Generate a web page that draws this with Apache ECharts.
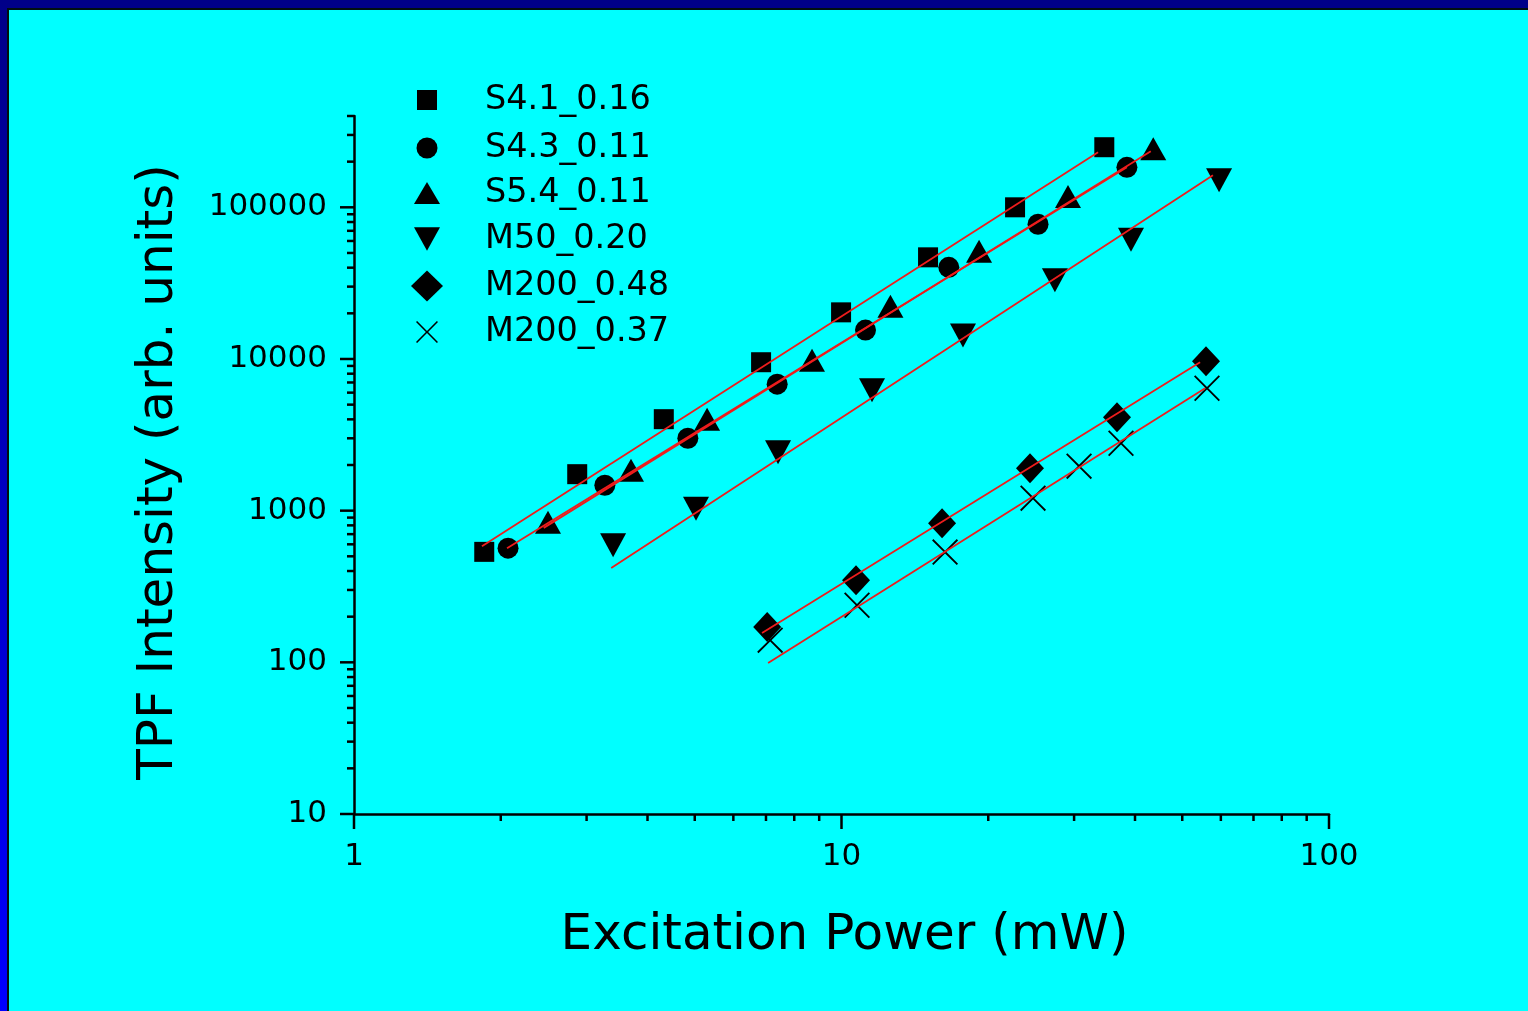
<!DOCTYPE html>
<html>
<head>
<meta charset="utf-8">
<script src="https://cdn.jsdelivr.net/npm/echarts@6/dist/echarts.min.js"></script>
<style>
html,body{margin:0;padding:0;background:#00ffff;}
#chart{width:1528px;height:1011px;}
</style>
</head>
<body>
<div id="chart"></div>
<script>
// ---- data (x: mW, y: arb. units) ----
const seriesNames = ['S4.1_0.16','S4.3_0.11','S5.4_0.11','M50_0.20','M200_0.48','M200_0.37'];

const xS41 = [1.85, 2.87, 4.32, 6.84, 9.98, 15.05, 22.7, 34.6];
const yS41 = [535, 1740, 4010, 9520, 20300, 46800, 100000, 249000];
const xS43 = [2.07, 3.27, 4.84, 7.38, 11.2, 16.6, 25.3, 38.5];
const yS43 = [566, 1470, 3000, 6820, 15500, 40200, 77300, 183500];
const xS54 = [2.50, 3.70, 5.30, 8.70, 12.6, 19.15, 29.15, 43.6];
const yS54 = [840, 1850, 4010, 9810, 22300, 51300, 118000, 243000];
const xM50 = [3.40, 5.03, 7.41, 11.55, 17.75, 27.4, 39.25, 59.5];
const yM50 = [592, 1030, 2430, 6220, 14300, 33000, 61100, 150600];
const xM48 = [7.04, 10.71, 16.08, 24.36, 36.74, 55.94];
const yM48 = [171, 348, 827, 1905, 4130, 9670];
const xM37 = [7.14, 10.76, 16.31, 24.71, 30.71, 37.44, 56.2];
const yM37 = [140, 238, 533, 1209, 1965, 2785, 6415];

// fitted lines (end points)
const fitXS41 = [1.83, 33.6];   const fitYS41 = [583, 230500];
const fitXS43 = [2.06, 38.5];   const fitYS43 = [566, 183500];
const fitXS54 = [2.45, 43.1];   const fitYS54 = [770, 234000];
const fitXM50 = [3.37, 57.8];   const fitYM50 = [418, 162500];
const fitXM48 = [6.87, 54.4];   const fitYM48 = [156, 9520];
const fitXM37 = [7.07, 55.7];   const fitYM37 = [99, 6413];

// axis ticks
const xMajorTicks = [1, 10, 100];
const yMajorTicks = [10, 100, 1000, 10000, 100000];
const minorMultipliers = [2, 3, 4, 5, 6, 7, 8, 9];
const xDecades = [1, 10];
const yDecades = [10, 100, 1000, 10000];
const yTopMinor = [200000, 300000, 400000];

// ---- build ----
const zip = (xs, ys) => xs.map((x, i) => [x, ys[i]]);
const points = [zip(xS41,yS41), zip(xS43,yS43), zip(xS54,yS54), zip(xM50,yM50), zip(xM48,yM48), zip(xM37,yM37)];
const fits = [zip(fitXS41,fitYS41), zip(fitXS43,fitYS43), zip(fitXS54,fitYS54), zip(fitXM50,fitYM50), zip(fitXM48,fitYM48), zip(fitXM37,fitYM37)];

const crossPath = 'path://M0,0.5L0.5,0L5,4.5L9.5,0L10,0.5L5.5,5L10,9.5L9.5,10L5,5.5L0.5,10L0,9.5L4.5,5Z';
const downTri = 'path://M0,0L10,0L5,9Z';
const symbols = ['rect', 'circle', 'triangle', downTri, 'diamond', crossPath];
const sizes = [[20,20],[21,21],[26,23],[26,24],[28,30],[26,26]];
const legendSizes = [[20,20],[21,21],[26,22],[26,24],[32,31],[22,22]];
const legendRows = [98, 146, 191, 237, 284, 330];

const FONT = 'DejaVu Sans';
const RED = '#ee1c1c';

const minorX = [];
xDecades.forEach(d => minorMultipliers.forEach(m => minorX.push(d * m)));
const minorY = [];
yDecades.forEach(d => minorMultipliers.forEach(m => minorY.push(d * m)));
yTopMinor.forEach(v => minorY.push(v));

const xTickData = xMajorTicks.map(v => [v, 10, 1]).concat(minorX.map(v => [v, 10, 0]));
const yTickData = yMajorTicks.map(v => [1, v, 1]).concat(minorY.map(v => [1, v, 0]));

const series = [];
seriesNames.forEach((name, i) => {
  series.push({
    name: name, type: 'scatter', data: points[i],
    symbol: symbols[i], symbolSize: sizes[i],
    itemStyle: {color: '#000', opacity: 1}, z: 2, silent: true
  });
});
seriesNames.forEach((name, i) => {
  series.push({
    name: name + ' fit', type: 'line', data: fits[i], symbol: 'none',
    lineStyle: {color: RED, width: 1.8}, z: 3, silent: true
  });
});
series.push({
  type: 'custom', name: 'xticks', data: xTickData, clip: false, silent: true, z: 4,
  renderItem: (params, api) => {
    const p = api.coord([api.value(0), api.value(1)]);
    const len = api.value(2) ? 15 : 7;
    return {type: 'line', shape: {x1: p[0], y1: p[1], x2: p[0], y2: p[1] + len},
            style: {stroke: '#000', lineWidth: 2.5}};
  }
});
series.push({
  type: 'custom', name: 'yticks', data: yTickData, clip: false, silent: true, z: 4,
  renderItem: (params, api) => {
    const p = api.coord([api.value(0), api.value(1)]);
    const len = api.value(2) ? 14 : 7;
    return {type: 'line', shape: {x1: p[0] - len, y1: p[1], x2: p[0], y2: p[1]},
            style: {stroke: '#000', lineWidth: 2.5}};
  }
});

const legends = seriesNames.map((name, i) => {
  const w = legendSizes[i][0], h = legendSizes[i][1];
  return {
    data: [name], orient: 'vertical', left: 427 - w / 2, top: legendRows[i] - 16,
    itemWidth: w, itemHeight: h, padding: 0, selectedMode: false,
    textStyle: {fontFamily: FONT, fontSize: 33.5, color: '#000', lineHeight: 36,
                padding: [0, 0, 0, 53 - w / 2]},
    itemStyle: {color: '#000', opacity: 1}
  };
});

const isPow10 = v => { const l = Math.log10(v); return Math.abs(l - Math.round(l)) < 1e-6; };

const option = {
  backgroundColor: '#00ffff',
  animation: false,
  grid: {left: 354, right: 199, top: 116, bottom: 197, containLabel: false},
  legend: legends,
  xAxis: {
    type: 'log', logBase: 10, min: 1, max: 100,
    name: 'Excitation Power (mW)', nameLocation: 'middle', nameGap: 97,
    nameTextStyle: {fontFamily: FONT, fontSize: 50, color: '#000', padding: [0, 0, 0, 6]},
    axisLine: {lineStyle: {color: '#000', width: 2.5}},
    axisTick: {show: false}, splitLine: {show: false}, minorTick: {show: false},
    axisLabel: {fontFamily: FONT, fontSize: 31, color: '#000', margin: 27,
                formatter: v => isPow10(v) ? String(Math.round(v)) : ''}
  },
  yAxis: {
    type: 'log', logBase: 10, min: 10, max: 400000,
    name: 'TPF Intensity (arb. units)', nameLocation: 'middle', nameGap: 170, nameRotate: 90,
    nameTextStyle: {fontFamily: FONT, fontSize: 50, color: '#000', padding: [0, 14, 0, 0]},
    axisLine: {lineStyle: {color: '#000', width: 2.5}},
    axisTick: {show: false}, splitLine: {show: false}, minorTick: {show: false},
    axisLabel: {fontFamily: FONT, fontSize: 31, color: '#000', margin: 27,
                formatter: v => isPow10(v) ? String(Math.round(v)) : ''}
  },
  graphic: [
    {type: 'rect', left: 0, top: 0, shape: {width: 1528, height: 8}, style: {fill: '#000088'}, z: 100},
    {type: 'rect', left: 0, top: 0, shape: {width: 7, height: 1011},
     style: {fill: new echarts.graphic.LinearGradient(0, 0, 0, 1, [{offset: 0, color: '#000088'}, {offset: 1, color: '#0000ff'}])}, z: 100},
    {type: 'rect', left: 7, top: 8, shape: {width: 1521, height: 2}, style: {fill: '#001010'}, z: 100},
    {type: 'rect', left: 7, top: 8, shape: {width: 2, height: 1003}, style: {fill: '#001010'}, z: 100}
  ],
  series: series
};

const chart = echarts.init(document.getElementById('chart'), null, {renderer: 'canvas'});
chart.setOption(option);
</script>
</body>
</html>
